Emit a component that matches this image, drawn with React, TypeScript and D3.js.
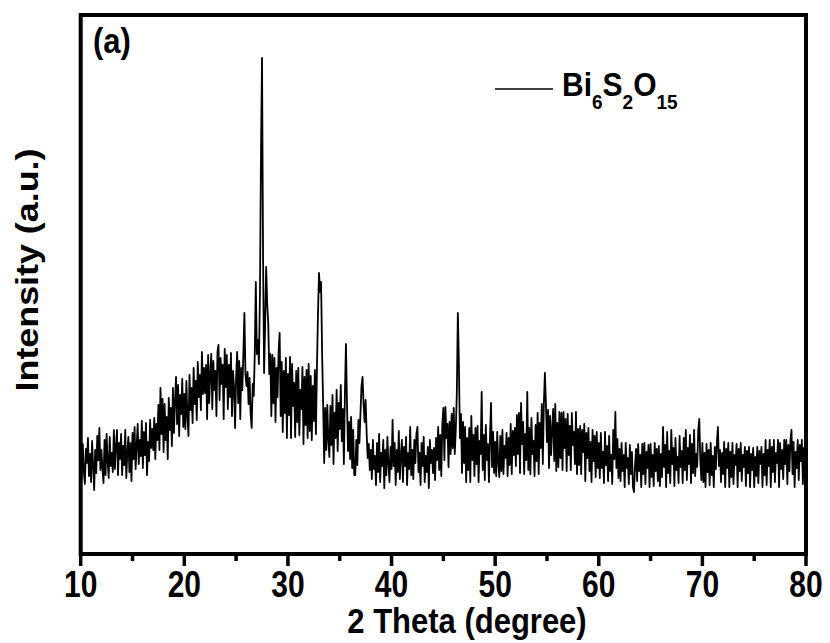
import React, { useEffect, useRef } from 'react';
import * as d3 from 'd3';

// scan settings (2 theta, degree)
const scanStart = 10;
const scanStep = 0.1;

// intensity, one value every 0.1 degree, 20 per row (2 degrees)
const intensity = [
  97, 75, 110, 84, 70, 105, 91, 116, 78, 100, 72, 113, 88, 64, 104, 81, 118, 94, 126, 84, // 10
  104, 85, 71, 114, 79, 120, 93, 76, 117, 88, 101, 82, 124, 85, 108, 124, 79, 111, 95, 120, // 12
  79, 108, 89, 124, 76, 101, 117, 82, 111, 73, 121, 95, 127, 85, 108, 130, 90, 114, 98, 133, // 14
  86, 122, 99, 131, 79, 112, 93, 134, 106, 125, 104, 136, 95, 130, 114, 149, 104, 166, 120, 155, // 16
  102, 150, 114, 137, 95, 156, 124, 146, 108, 166, 121, 153, 177, 130, 169, 118, 159, 140, 175, 127, // 18
  160, 125, 173, 138, 118, 179, 144, 166, 131, 186, 150, 173, 134, 192, 157, 179, 144, 202, 160, 186, // 20
  161, 189, 135, 199, 151, 180, 200, 145, 193, 164, 183, 138, 202, 209, 154, 196, 170, 189, 135, 205, // 22
  167, 199, 145, 189, 157, 201, 138, 183, 167, 126, 177, 202, 151, 193, 135, 186, 164, 200, 241, 180, // 24
  168, 182, 150, 176, 140, 126, 170, 158, 200, 272, 200, 214, 190, 260, 400, 496, 297, 181, 230, 287, // 26
  250, 231, 180, 200, 138, 199, 151, 196, 132, 186, 157, 202, 221, 138, 192, 122, 183, 141, 196, 116, // 28
  180, 139, 197, 116, 190, 148, 171, 117, 183, 132, 186, 119, 164, 145, 187, 110, 177, 129, 184, 116, // 30
  190, 123, 178, 114, 168, 133, 184, 120, 186, 240, 281, 262, 272, 200, 150, 91, 146, 104, 149, 114, // 32
  97, 148, 109, 159, 90, 141, 116, 164, 103, 151, 125, 169, 113, 145, 90, 160, 210, 150, 103, 132, // 34
  95, 137, 86, 124, 79, 79, 114, 89, 134, 111, 140, 168, 177, 150, 132, 154, 120, 96, 110, 84, // 36
  104, 75, 114, 85, 98, 69, 111, 82, 120, 72, 101, 88, 114, 66, 104, 79, 117, 91, 72, 107, // 38
  85, 134, 88, 111, 69, 104, 82, 123, 75, 98, 114, 72, 107, 88, 117, 69, 101, 85, 127, 79, // 40
  104, 75, 114, 91, 120, 127, 82, 101, 69, 111, 88, 117, 72, 98, 82, 107, 66, 114, 91, 104, // 42
  81, 106, 74, 116, 94, 127, 84, 119, 78, 129, 146, 94, 147, 116, 130, 87, 132, 100, 140, 106, // 44
  146, 100, 124, 160, 241, 190, 116, 140, 81, 132, 91, 127, 72, 116, 84, 126, 72, 138, 94, 119, // 46
  78, 126, 90, 128, 72, 113, 100, 162, 84, 119, 74, 129, 94, 110, 72, 116, 151, 87, 122, 81, // 48
  112, 78, 122, 92, 77, 118, 83, 124, 80, 108, 96, 121, 78, 116, 89, 130, 80, 123, 99, 126, // 50
  88, 139, 100, 141, 81, 151, 110, 132, 80, 120, 94, 162, 84, 126, 80, 136, 100, 113, 78, 129, // 52
  93, 141, 80, 131, 106, 150, 90, 150, 181, 150, 112, 144, 86, 138, 99, 125, 145, 93, 150, 83, // 54
  131, 87, 142, 96, 141, 84, 142, 106, 135, 83, 140, 99, 128, 84, 141, 109, 122, 90, 142, 80, // 56
  125, 89, 128, 80, 124, 102, 130, 73, 121, 96, 126, 83, 112, 72, 124, 93, 118, 77, 122, 86, // 58
  111, 76, 121, 86, 102, 71, 122, 89, 108, 73, 118, 83, 99, 70, 124, 95, 142, 86, 115, 76, // 60
  105, 73, 111, 83, 99, 67, 111, 86, 96, 70, 109, 80, 102, 67, 62, 89, 105, 73, 110, 83, // 62
  99, 67, 110, 80, 111, 70, 102, 86, 109, 67, 110, 77, 99, 68, 111, 83, 105, 73, 108, 68, // 64
  100, 77, 127, 87, 109, 67, 122, 81, 103, 71, 124, 90, 106, 68, 116, 84, 97, 71, 118, 87, // 66
  103, 71, 116, 84, 124, 74, 106, 90, 119, 71, 110, 81, 124, 78, 100, 87, 124, 135, 94, 74, // 68
  111, 72, 101, 67, 110, 82, 104, 69, 111, 79, 98, 67, 107, 85, 111, 127, 88, 104, 72, 101, // 70
  80, 112, 67, 105, 86, 111, 67, 102, 77, 111, 70, 99, 89, 110, 67, 105, 83, 111, 73, 99, // 72
  87, 107, 68, 103, 81, 107, 67, 100, 84, 106, 67, 97, 78, 107, 71, 103, 90, 107, 67, 100, // 74
  79, 114, 69, 104, 88, 114, 67, 107, 82, 114, 72, 101, 91, 114, 67, 111, 85, 104, 75, 114, // 76
  90, 114, 70, 109, 83, 114, 124, 80, 112, 67, 102, 86, 114, 74, 109, 93, 114, 70, 106, 90, // 78
  94 // 80
];

const xMajorTicks = [10, 20, 30, 40, 50, 60, 70, 80];
const xMinorTicks = [15, 25, 35, 45, 55, 65, 75];

const font = "'Liberation Sans', Arial, Helvetica, sans-serif";

function App() {
  const svgRef = useRef<SVGSVGElement>(null);

  useEffect(() => {
    const svg = d3.select(svgRef.current);
    svg.selectAll('*').remove();

    const x = d3.scaleLinear().domain([10, 80]).range([80.7, 806]);
    const y = d3.scaleLinear().domain([0, 539]).range([554, 15]);

    const points = intensity.map((v, i) => [scanStart + i * scanStep, v] as [number, number]);

    const line = d3.line<[number, number]>()
      .x(d => x(d[0]))
      .y(d => y(d[1]));

    // pattern
    svg.append('path')
      .datum(points)
      .attr('d', line)
      .attr('fill', 'none')
      .attr('stroke', '#000')
      .attr('stroke-width', 1.8)
      .attr('stroke-linejoin', 'round');

    // frame
    svg.append('rect')
      .attr('x', x(10))
      .attr('y', y(539))
      .attr('width', x(80) - x(10))
      .attr('height', y(0) - y(539))
      .attr('fill', 'none')
      .attr('stroke', '#000')
      .attr('stroke-width', 4);

    // x ticks, outward
    const gx = svg.append('g');
    gx.selectAll('.major')
      .data(xMajorTicks)
      .enter().append('line')
      .attr('x1', d => x(d)).attr('x2', d => x(d))
      .attr('y1', y(0)).attr('y2', y(0) + 12)
      .attr('stroke', '#000').attr('stroke-width', 3.5);
    gx.selectAll('.minor')
      .data(xMinorTicks)
      .enter().append('line')
      .attr('x1', d => x(d)).attr('x2', d => x(d))
      .attr('y1', y(0)).attr('y2', y(0) + 7)
      .attr('stroke', '#000').attr('stroke-width', 3.5);

    gx.selectAll('text')
      .data(xMajorTicks)
      .enter().append('text')
      .attr('transform', d => `translate(${x(d)},597) scale(1,1.2)`)
      .attr('text-anchor', 'middle')
      .attr('font-family', font)
      .attr('font-weight', 'bold')
      .attr('font-size', 30)
      .text(d => d);

    // axis titles
    svg.append('text')
      .attr('transform', 'translate(467,633) scale(1,1.13)')
      .attr('text-anchor', 'middle')
      .attr('font-family', font)
      .attr('font-weight', 'bold')
      .attr('font-size', 31)
      .text('2 Theta (degree)');

    svg.append('text')
      .attr('transform', 'translate(38,270) scale(1,1.12) rotate(-90)')
      .attr('text-anchor', 'middle')
      .attr('font-family', font)
      .attr('font-weight', 'bold')
      .attr('font-size', 32)
      .text('Intensity (a.u.)');

    // panel label
    svg.append('text')
      .attr('transform', 'translate(93,52.7) scale(1,1.12)')
      .attr('font-family', font)
      .attr('font-weight', 'bold')
      .attr('font-size', 31)
      .text('(a)');

    // legend
    svg.append('line')
      .attr('x1', 495).attr('x2', 553)
      .attr('y1', 89).attr('y2', 89)
      .attr('stroke', '#000').attr('stroke-width', 1.6);

    const leg = svg.append('text')
      .attr('transform', 'translate(562,96) scale(1,1.1)')
      .attr('font-family', font)
      .attr('font-weight', 'bold')
      .attr('font-size', 30);
    const parts: [string, boolean][] = [['Bi', false], ['6', true], ['S', false], ['2', true], ['O', false], ['15', true]];
    let sub = false;
    parts.forEach(([t, isSub]) => {
      const dy = isSub === sub ? 0 : (isSub ? 12 : -12);
      leg.append('tspan')
        .attr('dy', dy)
        .attr('font-size', isSub ? 19 : 30)
        .text(t);
      sub = isSub;
    });
  }, []);

  return (
    <svg
      ref={svgRef}
      width={830}
      height={643}
      style={{ position: 'absolute', left: 0, top: 0, background: '#fff' }}
    />
  );
}

export default App;
